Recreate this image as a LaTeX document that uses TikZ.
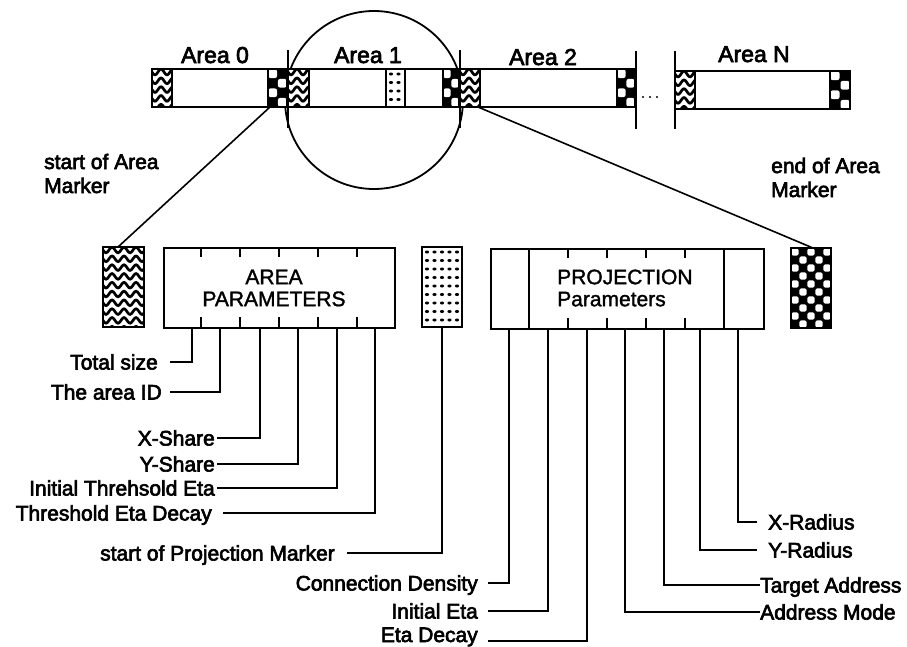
\documentclass[tikz,border=0pt]{standalone}
\usepackage{fontspec}
\setmainfont{Liberation Sans}
\newfontfamily\lbf{Liberation Sans}[FakeBold=3]
\newfontfamily\lmf{Liberation Sans}[FakeBold=1.5]
\usetikzlibrary{calc}

\tikzset{
  bd/.style={line width=1.8pt},
  ln/.style={line width=1.6pt},
  lbl/.style={font=\lbf\fontsize{21}{24}\selectfont, inner sep=0pt},
  ttl/.style={font=\lbf\fontsize{23}{26}\selectfont, inner sep=0pt, anchor=base},
  boxtxt/.style={font=\lmf\fontsize{21}{22}\selectfont, inner sep=0pt},
}

% wavy marker: x1 y1 x2 y2
\newcommand\wavmark[4]{%
  \pgfmathsetmacro\wxa{#1-3}\pgfmathsetmacro\wxb{#3+3}%
  \begin{scope}
    \clip (#1,#2) rectangle (#3,#4);
    \fill[white] (#1,#2) rectangle (#3,#4);
    \foreach \k in {0,...,10}{%
      \pgfmathsetmacro\yy{#2+3+\k*8.8}%
      \draw[line width=2.7pt, domain=\wxa:\wxb, samples=40, smooth]
        plot (\x,{\yy+2.8*sin(30*(\x-#1))});
    }
  \end{scope}
  \draw[bd] (#1,#2) rectangle (#3,#4);
}
% dotted marker
\newcommand\dotmark[4]{%
  \begin{scope}
    \clip (#1,#2) rectangle (#3,#4);
    \fill[white] (#1,#2) rectangle (#3,#4);
    \foreach \i in {0,...,5}{\foreach \j in {0,...,10}{%
      \fill (#1+5+\i*7.5,#2+5+\j*8.5) ellipse[x radius=2.1pt, y radius=1.5pt];
    }}
  \end{scope}
  \draw[bd] (#1,#2) rectangle (#3,#4);
}
% checker marker: x1 y1 x2 y2 cx cy
\newcommand\chkmark[6]{%
  \begin{scope}
    \clip (#1,#2) rectangle (#3,#4);
    \fill[black] (#1,#2) rectangle (#3,#4);
    \foreach \i in {0,...,6}{\foreach \j in {0,...,11}{%
      \pgfmathtruncatemacro\pp{mod(\i+\j,2)}%
      \ifnum\pp=0
        \fill[white, rounded corners=2pt]
          (#1+\i*#5+0.05*#5,#2+\j*#6+0.05*#6) rectangle ++(0.9*#5,0.9*#6);
      \fi
    }}
  \end{scope}
  \draw[bd] (#1,#2) rectangle (#3,#4);
}

\begin{document}
\begin{tikzpicture}[x=1pt,y=-1pt]
\useasboundingbox (0,0) rectangle (907,646);

% magnifying circle
\node[draw, bd, circle, minimum size=178pt, inner sep=0pt] (lens) at (374,100) {};

% top bar
\draw[bd, fill=white] (152,69) rectangle (287,107);
\wavmark{152}{69}{172}{107}
\chkmark{268}{69}{287}{107}{9.5}{9.5}

\draw[bd, fill=white] (288,69) rectangle (459,107);
\wavmark{288}{69}{309}{107}
\dotmark{386}{69}{405}{107}
\chkmark{443}{69}{459}{107}{8}{9.5}

\draw[bd, fill=white] (460,69) rectangle (635,107);
\wavmark{460}{69}{480}{107}
\chkmark{617}{69}{635}{107}{9}{9.5}

\draw[bd, fill=white] (675,71) rectangle (850,109);
\wavmark{675}{71}{695}{109}
\chkmark{830}{71}{850}{109}{10}{9.5}

% dividers
\foreach \dx in {288,460}{\draw[ln] (\dx,50) -- (\dx,128);}
\foreach \dx in {636,675}{\draw[ln] (\dx,51) -- (\dx,129);}
\foreach \dx in {643,650,657}{\fill (\dx,97) circle[radius=1.1pt];}

% titles
\node[ttl] (t0) at (215,63) {Area 0};
\node[ttl] (t1) at (368,63) {Area 1};
\node[ttl] (t2) at (543,65) {Area 2};
\node[ttl] (tn) at (754,62) {Area N};

% side notes
\node[lbl, anchor=base west, align=left] (san) at (44,193)
  {start of Area\\[0pt]Marker};
\node[lbl, anchor=base west, align=left] (ean) at (771,197)
  {end of Area\\[0pt]Marker};

% lower markers and boxes
\wavmark{103}{247}{144}{327}
\dotmark{422}{247}{462}{327}
\chkmark{791}{248}{831}{328}{8}{8}

\node[draw, bd, anchor=north west, minimum width=231pt, minimum height=80pt, inner sep=0pt] (ap) at (163,247) {};
\foreach \t in {201,240,279,318,357}{\draw[ln] (\t,247) -- (\t,257); \draw[ln] (\t,327) -- (\t,317);}
\node[boxtxt, align=center] (apt) at (274,288) {AREA\\PARAMETERS};

\node[draw, bd, anchor=north west, minimum width=273pt, minimum height=80pt, inner sep=0pt] (pp) at (490,248) {};
\draw[bd] (529,248) -- (529,328);
\draw[bd] (724,248) -- (724,328);
\foreach \t in {568,607,646,685}{\draw[ln] (\t,248) -- (\t,258); \draw[ln] (\t,328) -- (\t,318);}
\node[boxtxt, align=left, anchor=west] (ppt) at (557,288) {PROJECTION\\Parameters};

% connector ends
\coordinate (b0) at (270,107);
\coordinate (b2) at (478,107);
\coordinate (sm) at (118,247);
\coordinate (em) at (813,248);
\draw[ln] (b0) -- (sm);
\draw[ln] (b2) -- (em);

\coordinate (a1) at (192,327);
\coordinate (a2) at (220,327);
\coordinate (a3) at (260,327);
\coordinate (a4) at (298,327);
\coordinate (a5) at (337,327);
\coordinate (a6) at (375,327);
\coordinate (a7) at (442,327);
\coordinate (q1) at (509,328);
\coordinate (q2) at (548,328);
\coordinate (q3) at (587,328);
\coordinate (q4) at (625,328);
\coordinate (q5) at (664,328);
\coordinate (q6) at (700,328);
\coordinate (q7) at (738,328);

% labels, left side
\node[lbl, anchor=base east] (l1) at (158,369.5) {Total size};
\node[lbl, anchor=base east] (l2) at (162,399.5) {The area ID};
\node[lbl, anchor=base east] (l3) at (215,445.5) {X-Share};
\node[lbl, anchor=base east] (l4) at (215,471.5) {Y-Share};
\node[lbl, anchor=base east] (l5) at (215,495.5) {Initial Threhsold Eta};
\node[lbl, anchor=base east] (l6) at (212,520.5) {Threshold Eta Decay};
\node[lbl, anchor=base east] (l7) at (335,560.5) {start of Projection Marker};
\node[lbl, anchor=base east] (l8) at (478,590.5) {Connection Density};
\node[lbl, anchor=base east] (l9) at (478,618.5) {Initial Eta};
\node[lbl, anchor=base east] (l10) at (478,642) {Eta Decay};

\draw[ln] (l1.base east) ++(12,-7.5) -| (a1);
\draw[ln] (l2.base east) ++(8,-7.5) -| (a2);
\draw[ln] (l3.base east) ++(2,-7.5) -| (a3);
\draw[ln] (l4.base east) ++(2,-7.5) -| (a4);
\draw[ln] (l5.base east) ++(2,-7.5) -| (a5);
\draw[ln] (l6.base east) ++(11,-7.5) -| (a6);
\draw[ln] (l7.base east) ++(12,-7.5) -| (a7);
\draw[ln] (l8.base east) ++(10,-7.5) -| (q1);
\draw[ln] (l9.base east) ++(10,-7.5) -| (q2);
\draw[ln] (l10.base east) ++(10,-1) -| (q3);

% labels, right side
\node[lbl, anchor=base west] (r1) at (768,529.5) {X-Radius};
\node[lbl, anchor=base west] (r2) at (768,557.5) {Y-Radius};
\node[lbl, anchor=base west] (r3) at (760,592.5) {Target Address};
\node[lbl, anchor=base west] (r4) at (760,619.5) {Address Mode};

\draw[ln] (r1.base west) ++(-11,-7.5) -| (q7);
\draw[ln] (r2.base west) ++(-11,-7.5) -| (q6);
\draw[ln] (r3.base west) ++(0,-7.5) -| (q5);
\draw[ln] (r4.base west) ++(0,-7.5) -| (q4);

\end{tikzpicture}
\end{document}
